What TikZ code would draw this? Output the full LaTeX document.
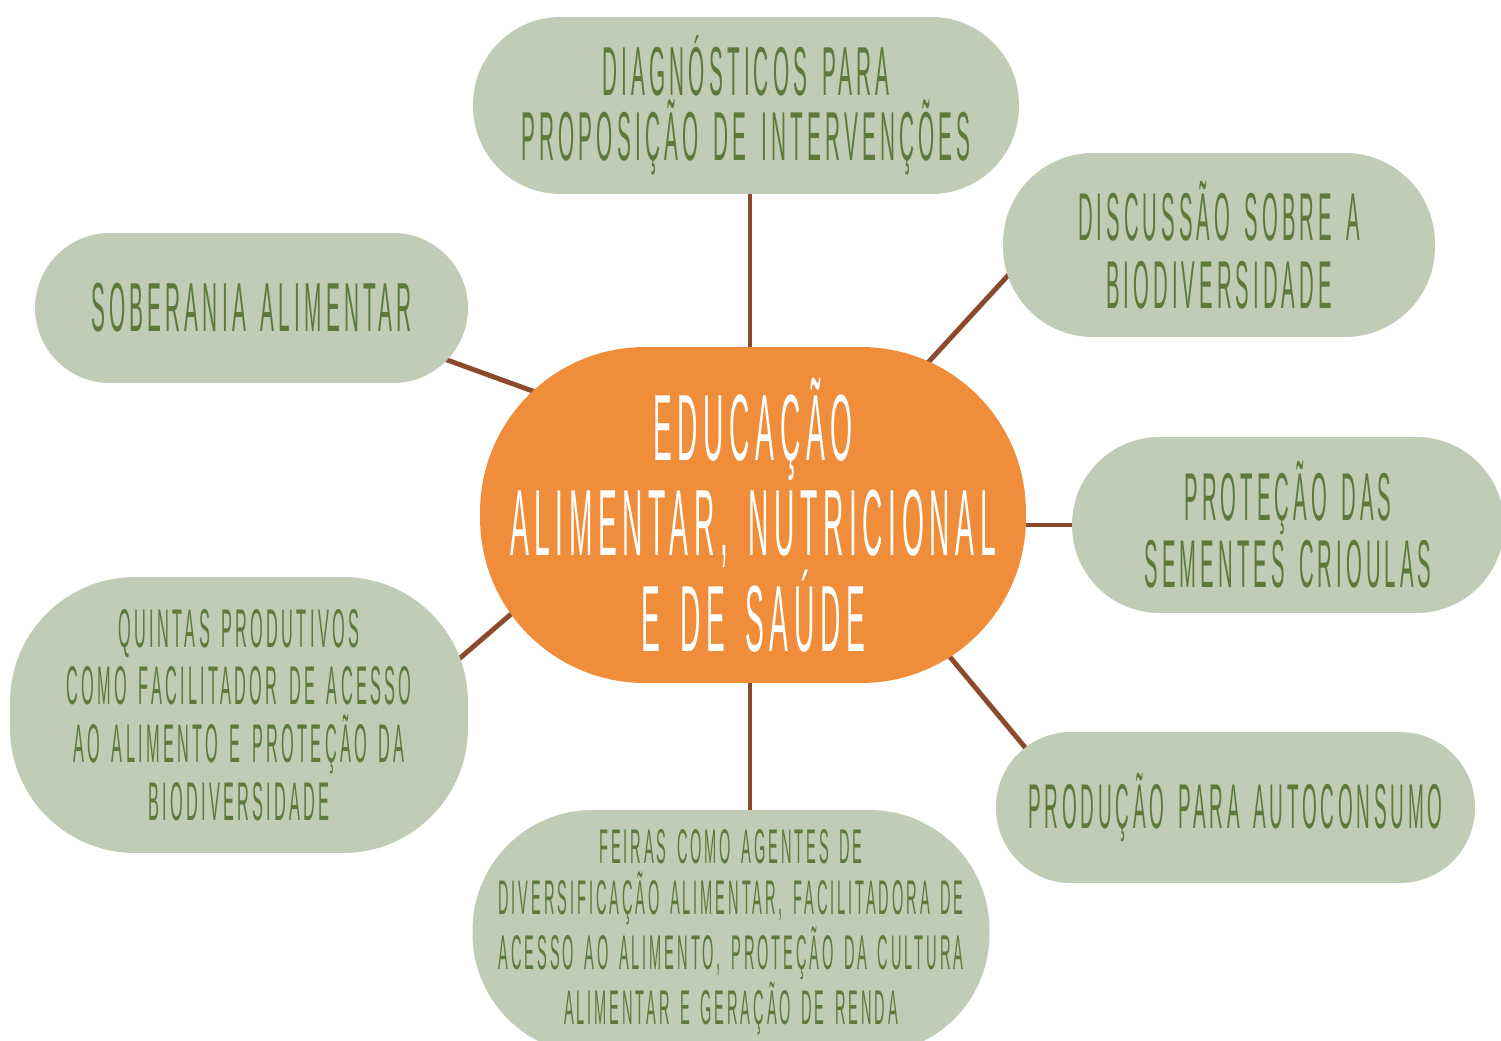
\documentclass[tikz,border=0pt]{standalone}
\usepackage{fontspec}
\newfontfamily\handfont[FakeStretch=0.3,LetterSpace=6,WordSpace=1.5]{Liberation Sans}
\usetikzlibrary{backgrounds,calc}
\definecolor{sage}{RGB}{192,204,182}
\definecolor{leaf}{RGB}{91,122,60}
\definecolor{tangerine}{RGB}{240,141,59}
\definecolor{bark}{RGB}{139,74,43}
\begin{document}
\begin{tikzpicture}[x=0.02cm,y=-0.02cm,
  topic/.style={fill=sage, text=leaf, align=center, inner sep=0pt},
  hub/.style={fill=tangerine, text=white, align=center, inner sep=0pt},
  link/.style={draw=bark, line width=2.8pt}]
\useasboundingbox (0,0) rectangle (1501,1041);
\clip (0,0) rectangle (1501,1041);

% central theme
\node[hub, minimum width=10.92cm, minimum height=6.72cm, rounded corners=3.3cm,
  font=\handfont\fontsize{53.5}{54.4}\selectfont] (C) at (753,515)
  {EDUCAÇÃO\\ALIMENTAR, NUTRICIONAL\\E DE SAÚDE};

% surrounding topics
\node[topic, minimum width=10.92cm, minimum height=3.54cm, rounded corners=1.75cm,
  font=\handfont\fontsize{39.4}{36.9}\selectfont] (T) at (746,105.5)
  {DIAGNÓSTICOS PARA\\PROPOSIÇÃO DE INTERVENÇÕES};
\node[topic, minimum width=8.64cm, minimum height=3.68cm, rounded corners=1.8cm,
  font=\handfont\fontsize{38.5}{38.5}\selectfont] (D) at (1219,245)
  {DISCUSSÃO SOBRE A\\BIODIVERSIDADE};
\node[topic, minimum width=8.64cm, minimum height=3.52cm, rounded corners=1.75cm,
  font=\handfont\fontsize{38.5}{38}\selectfont] (P) at (1288,525)
  {PROTEÇÃO DAS\\SEMENTES CRIOULAS};
\node[topic, minimum width=9.58cm, minimum height=3.02cm, rounded corners=1.5cm,
  font=\handfont\fontsize{36}{38}\selectfont] (A) at (1235.5,807.5)
  {PRODUÇÃO PARA AUTOCONSUMO};
\node[topic, minimum width=10.34cm, minimum height=4.88cm, rounded corners=2.4cm,
  font=\handfont\fontsize{27.7}{28.9}\selectfont] (F) at (731,932)
  {FEIRAS COMO AGENTES DE\\DIVERSIFICAÇÃO ALIMENTAR, FACILITADORA DE\\ACESSO AO ALIMENTO, PROTEÇÃO DA CULTURA\\ALIMENTAR E GERAÇÃO DE RENDA};
\node[topic, minimum width=9.16cm, minimum height=5.52cm, rounded corners=2.5cm,
  font=\handfont\fontsize{31}{32.9}\selectfont] (Q) at (239,715)
  {QUINTAS PRODUTIVOS\\COMO FACILITADOR DE ACESSO\\AO ALIMENTO E PROTEÇÃO DA\\BIODIVERSIDADE};
\node[topic, minimum width=8.66cm, minimum height=3.0cm, rounded corners=1.5cm,
  font=\handfont\fontsize{39.5}{38}\selectfont] (S) at (251.5,308)
  {SOBERANIA ALIMENTAR};

% connectors, tucked under the shapes
\begin{scope}[on background layer]
  \draw[link] ($(T.center)+(4,0)$) -- ($(C.center)+(-3,0)$);
  \draw[link] ($(C.center)+(35,0)$) -- ($(D.center)+(-183,0)$);
  \draw[link] ($(C.center)+(0,10)$) -- ($(P.center)+(0,0)$);
  \draw[link] ($(C.center)+(79,0)$) -- ($(A.center)+(-160.5,0)$);
  \draw[link] ($(C.center)+(-3,0)$) -- ($(F.center)+(19,0)$);
  \draw[link] ($(C.center)+(-127,0)$) -- ($(Q.center)+(155,0)$);
  \draw[link] ($(C.center)+(0,-44)$) -- ($(S.center)+(0,-19)$);
\end{scope}
\end{tikzpicture}
\end{document}
